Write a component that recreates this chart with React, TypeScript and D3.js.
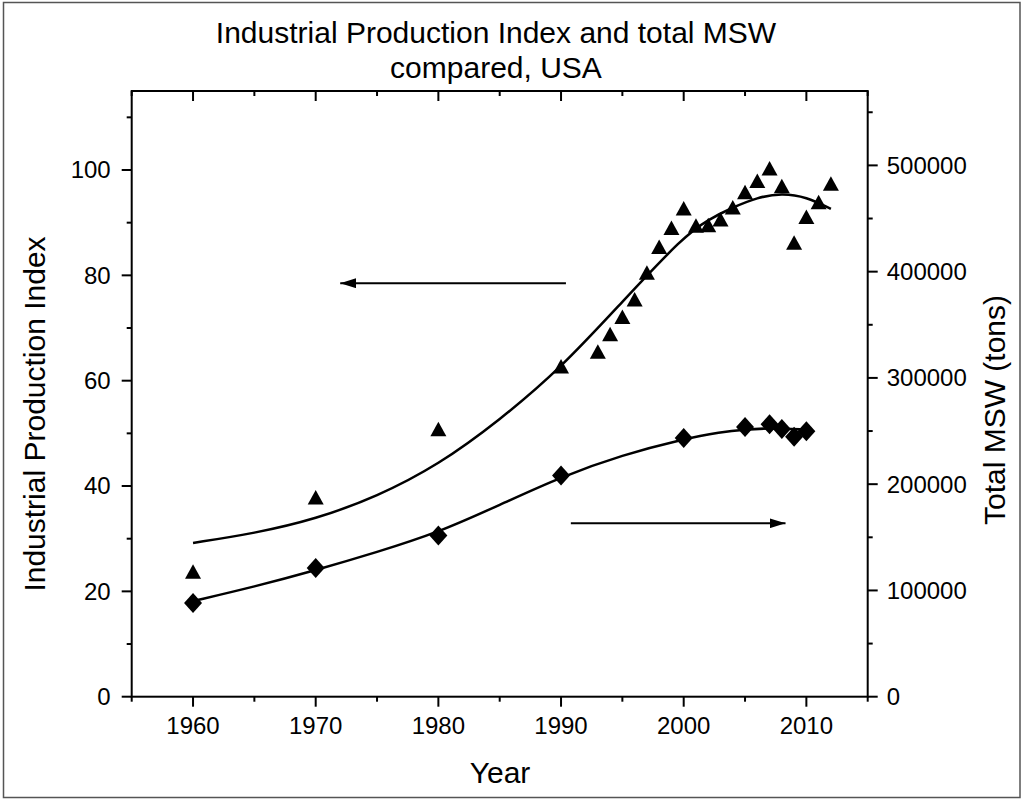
import React, { useEffect, useRef } from 'react';
import * as d3 from 'd3';

// Industrial Production Index (left axis), triangles
const ipiYears = [1960, 1970, 1980, 1990, 1993, 1994, 1995, 1996, 1997, 1998, 1999, 2000,
  2001, 2002, 2003, 2004, 2005, 2006, 2007, 2008, 2009, 2010, 2011, 2012];
const ipiValues = [23.7, 37.8, 50.8, 62.7, 65.5, 68.8, 72.1, 75.4, 80.5, 85.4, 89.0, 92.7,
  89.4, 89.5, 90.6, 92.9, 95.8, 97.9, 100.3, 96.9, 86.2, 91.1, 93.9, 97.4];

// Total MSW in tons (right axis), diamonds
const mswYears = [1960, 1970, 1980, 1990, 2000, 2005, 2007, 2008, 2009, 2010];
const mswValues = [88120, 121060, 151640, 208270, 243450, 253730, 256350, 251970, 244560, 249860];

// fitted curves
const ipiFitYears = [1960, 1965, 1970, 1975, 1980, 1985, 1990, 1995, 2000, 2002, 2004, 2006, 2008, 2010, 2012];
const ipiFitValues = [29.2, 31.0, 33.7, 38.0, 44.0, 52.5, 62.4, 75.0, 87.4, 90.6, 92.9, 94.8, 95.6, 94.9, 92.6];
const mswFitYears = [1960, 1965, 1970, 1975, 1980, 1985, 1990, 1995, 2000, 2003, 2005, 2007, 2010];
const mswFitValues = [90000, 103500, 119000, 136000, 154500, 180500, 207000, 227500, 242500, 249000, 251500, 252800, 251500];

// arrows pointing at the axis each series belongs to
const leftArrowYears = [1990.4, 1972.0];
const leftArrowValue = 78.5;
const rightArrowYears = [1990.8, 2008.3];
const rightArrowValue = 163200;

const xMajor = [1960, 1970, 1980, 1990, 2000, 2010];
const xMinor = [1955, 1965, 1975, 1985, 1995, 2005, 2015];
const leftMajor = [0, 20, 40, 60, 80, 100];
const leftMinor = [10, 30, 50, 70, 90, 110];
const rightMajor = [0, 100000, 200000, 300000, 400000, 500000];
const rightMinor = [50000, 150000, 250000, 350000, 450000, 550000];

const titleLines = ['Industrial Production Index and total MSW', 'compared, USA'];

export default function App() {
  const svgRef = useRef<SVGSVGElement>(null);

  useEffect(() => {
    if (!svgRef.current) return;
    const svg = d3.select(svgRef.current);
    svg.selectAll('*').remove();

    const font = '"Liberation Sans", Arial, sans-serif';
    const left = 131.7, right = 867.7, top = 91, bottom = 696.7;

    const x = d3.scaleLinear().domain([1955, 2015]).range([left, right]);
    const yL = d3.scaleLinear().domain([0, 115]).range([bottom, top]);
    const yR = d3.scaleLinear().domain([0, 570000]).range([bottom, top]);

    // outer frame
    svg.append('rect')
      .attr('x', 3.5).attr('y', 2.5)
      .attr('width', 1016.5).attr('height', 795)
      .attr('fill', 'none')
      .attr('stroke', '#555')
      .attr('stroke-width', 1.5);

    const defs = svg.append('defs');
    defs.append('marker')
      .attr('id', 'head')
      .attr('viewBox', '0 0 16 10')
      .attr('refX', 16).attr('refY', 5)
      .attr('markerUnits', 'userSpaceOnUse')
      .attr('markerWidth', 16).attr('markerHeight', 10)
      .attr('orient', 'auto')
      .append('path')
      .attr('d', 'M0,0 L16,5 L0,10 Z')
      .attr('fill', '#000');

    // Title
    svg.append('g')
      .selectAll('text')
      .data(titleLines)
      .join('text')
      .attr('x', 496)
      .attr('y', (_d, i) => 43 + i * 35)
      .attr('text-anchor', 'middle')
      .style('font-family', font)
      .style('font-size', '30px')
      .text(d => d);

    const axes = svg.append('g')
      .attr('stroke', '#000')
      .attr('stroke-width', 2);

    // Plot frame
    axes.append('rect')
      .attr('x', left).attr('y', top)
      .attr('width', right - left).attr('height', bottom - top)
      .attr('fill', 'none');

    // Bottom ticks (outward) and top ticks (inward)
    const xTicks = [...xMajor.map(v => ({ v, len: 10 })), ...xMinor.map(v => ({ v, len: 5 }))];
    axes.selectAll('.xb').data(xTicks).join('line')
      .attr('x1', d => x(d.v)).attr('x2', d => x(d.v))
      .attr('y1', bottom).attr('y2', d => bottom + d.len);
    axes.selectAll('.xt').data(xTicks).join('line')
      .attr('x1', d => x(d.v)).attr('x2', d => x(d.v))
      .attr('y1', top).attr('y2', d => top + d.len);

    // Left ticks
    const lTicks = [...leftMajor.map(v => ({ v, len: 10 })), ...leftMinor.map(v => ({ v, len: 5 }))];
    axes.selectAll('.yl').data(lTicks).join('line')
      .attr('x1', left).attr('x2', d => left - d.len)
      .attr('y1', d => yL(d.v)).attr('y2', d => yL(d.v));

    // Right ticks
    const rTicks = [...rightMajor.map(v => ({ v, len: 10 })), ...rightMinor.map(v => ({ v, len: 5 }))];
    axes.selectAll('.yr').data(rTicks).join('line')
      .attr('x1', right).attr('x2', d => right + d.len)
      .attr('y1', d => yR(d.v)).attr('y2', d => yR(d.v));

    const labels = svg.append('g')
      .style('font-family', font)
      .style('font-size', '24px')
      .attr('fill', '#000');

    labels.selectAll('.xlab').data(xMajor).join('text')
      .attr('x', d => x(d)).attr('y', 734)
      .attr('text-anchor', 'middle')
      .text(d => String(d));

    labels.selectAll('.yllab').data(leftMajor).join('text')
      .attr('x', left - 21).attr('y', d => yL(d))
      .attr('dy', '0.35em')
      .attr('text-anchor', 'end')
      .text(d => String(d));

    labels.selectAll('.yrlab').data(rightMajor).join('text')
      .attr('x', right + 19).attr('y', d => yR(d))
      .attr('dy', '0.35em')
      .attr('text-anchor', 'start')
      .text(d => String(d));

    // Axis titles
    svg.append('text')
      .attr('x', 500).attr('y', 783)
      .attr('text-anchor', 'middle')
      .style('font-family', font).style('font-size', '30px')
      .text('Year');
    svg.append('text')
      .attr('transform', 'translate(45,414) rotate(-90)')
      .attr('text-anchor', 'middle')
      .style('font-family', font).style('font-size', '30px')
      .text('Industrial Production Index');
    svg.append('text')
      .attr('transform', 'translate(1005,410) rotate(-90)')
      .attr('text-anchor', 'middle')
      .style('font-family', font).style('font-size', '30px')
      .text('Total MSW (tons)');

    // Fit curves
    const fitIpi = ipiFitYears.map((yr, i) => [x(yr), yL(ipiFitValues[i])] as [number, number]);
    const fitMsw = mswFitYears.map((yr, i) => [x(yr), yR(mswFitValues[i])] as [number, number]);
    const curve = d3.line().curve(d3.curveBasis);
    svg.append('path')
      .attr('d', curve(fitIpi))
      .attr('fill', 'none').attr('stroke', '#000').attr('stroke-width', 2.5);
    svg.append('path')
      .attr('d', curve(fitMsw))
      .attr('fill', 'none').attr('stroke', '#000').attr('stroke-width', 2.5);

    // Markers
    svg.append('g').selectAll('path')
      .data(ipiYears.map((yr, i) => ({ yr, v: ipiValues[i] })))
      .join('path')
      .attr('transform', d => `translate(${x(d.yr)},${yL(d.v)})`)
      .attr('d', 'M0,-7.5 L8,7 L-8,7 Z')
      .attr('fill', '#000');

    svg.append('g').selectAll('path')
      .data(mswYears.map((yr, i) => ({ yr, v: mswValues[i] })))
      .join('path')
      .attr('transform', d => `translate(${x(d.yr)},${yR(d.v)})`)
      .attr('d', 'M0,-10 L9,0 L0,10 L-9,0 Z')
      .attr('fill', '#000');

    // Arrows
    svg.append('line')
      .attr('x1', x(leftArrowYears[0])).attr('x2', x(leftArrowYears[1]))
      .attr('y1', yL(leftArrowValue)).attr('y2', yL(leftArrowValue))
      .attr('stroke', '#000').attr('stroke-width', 2)
      .attr('marker-end', 'url(#head)');
    svg.append('line')
      .attr('x1', x(rightArrowYears[0])).attr('x2', x(rightArrowYears[1]))
      .attr('y1', yR(rightArrowValue)).attr('y2', yR(rightArrowValue))
      .attr('stroke', '#000').attr('stroke-width', 2)
      .attr('marker-end', 'url(#head)');
  }, []);

  return (
    <svg
      ref={svgRef}
      width={1024}
      height={803}
      style={{ position: 'absolute', left: 0, top: 0, background: '#fff', display: 'block' }}
    />
  );
}
